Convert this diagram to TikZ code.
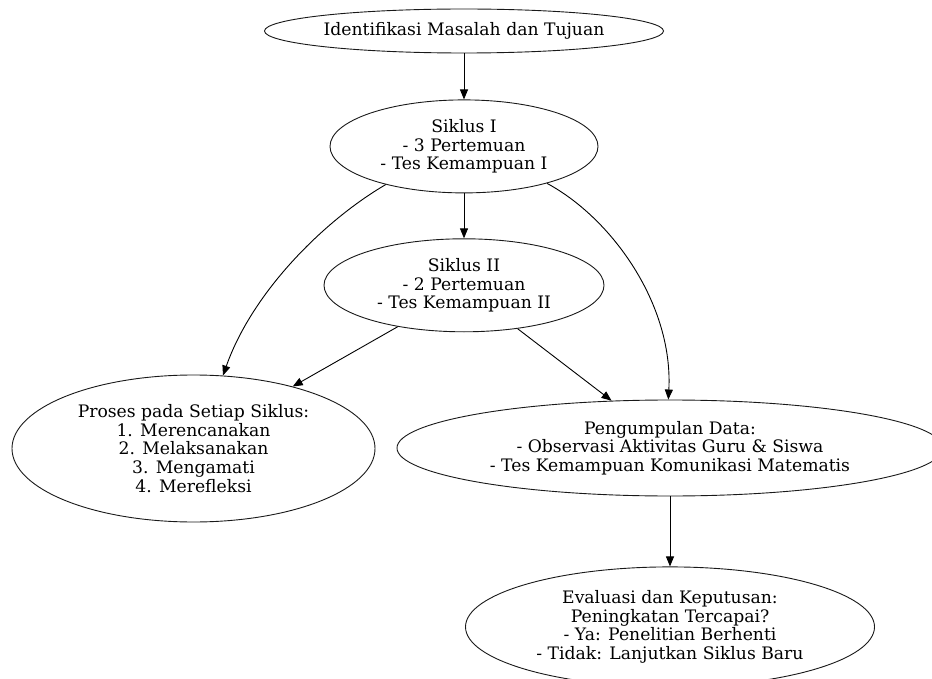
\documentclass[tikz,border=0pt]{standalone}
\usepackage{fontspec}
\setmainfont{DejaVu Serif}
\usepackage{tikz}
\usetikzlibrary{shapes.geometric, arrows.meta, positioning}

\begin{document}
\begin{tikzpicture}[
    x=1pt, y=-1pt,
    oval/.style={ellipse, draw=black!90, line width=0.9pt, inner sep=0pt, align=center, font=\fontsize{17.2}{18.7}\selectfont},
    arrow/.style={-{Triangle[length=10pt, width=8pt]}, line width=0.9pt, black}
]
\useasboundingbox (0,0) rectangle (932,679);

% Main chain (top)
\node[oval, minimum width=399pt, minimum height=44pt] (top) at (464,31) {Identifikasi Masalah dan Tujuan};
\node[oval, minimum width=268pt, minimum height=93pt, below=46pt of top] (siklusA) {Siklus I\\- 3 Pertemuan\\- Tes Kemampuan I};
\node[oval, minimum width=280pt, minimum height=93pt, below=45pt of siklusA] (siklusB) {Siklus II\\- 2 Pertemuan\\- Tes Kemampuan II};

% Process and data collection
\node[oval, minimum width=363pt, minimum height=147pt] (proses) at (193.5,448.5) {Proses pada Setiap Siklus:\\1. Merencanakan\\2. Melaksanakan\\3. Mengamati\\4. Merefleksi};
\node[oval, minimum width=546pt, minimum height=96pt] (data) at (670,448) {Pengumpulan Data:\\- Observasi Aktivitas Guru \& Siswa\\- Tes Kemampuan Komunikasi Matematis};

% Evaluation (bottom)
\node[oval, minimum width=409pt, minimum height=120pt, below=70pt of data] (evaluasi) {Evaluasi dan Keputusan:\\Peningkatan Tercapai?\\- Ya: Penelitian Berhenti\\- Tidak: Lanjutkan Siklus Baru};

% Arrows
\draw[arrow] (top) -- (siklusA);
\draw[arrow] (siklusA) -- (siklusB);
\draw[arrow] (siklusA.206) .. controls +(-60,35) and +(30,-85) .. (proses.68);
\draw[arrow] (siklusA.336) .. controls +(65,35) and +(5,-95) .. (data.92);
\draw[arrow] (siklusB.212) -- (proses.32);
\draw[arrow] (siklusB.321) -- (data.141);
\draw[arrow] (data) -- (evaluasi);

\end{tikzpicture}
\end{document}
